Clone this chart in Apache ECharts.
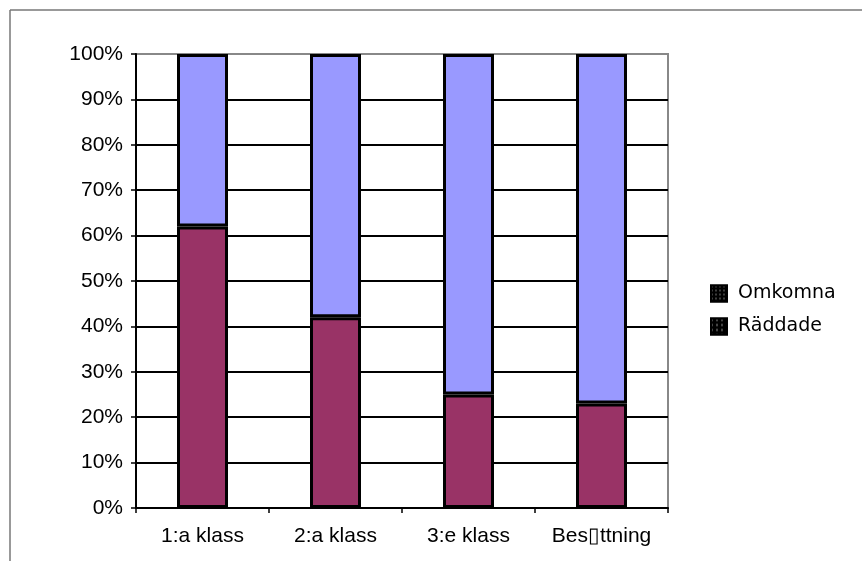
<!DOCTYPE html>
<html>
<head>
    <meta charset="utf-8">
    <script type="text/javascript" src="https://cdn.jsdelivr.net/npm/echarts@6.0.0/dist/echarts.min.js"></script>
    <style type="text/css">
        *{
            margin: 0;
            padding: 0;
        }
        #main{
            width: 862px;
            height: 561px;
            background: #fff;
        }
    </style>
</head>
<body>
<div id="main"></div>
<script type="text/javascript">
    var categories = ['1:a klass', '2:a klass', '3:e klass', 'Bes\u25AFttning'];
    var raddade = [62, 42, 25, 23];
    var omkomna = [38, 58, 75, 77];
    var yTicks = [0, 10, 20, 30, 40, 50, 60, 70, 80, 90, 100];

    var myChart = echarts.init(document.getElementById('main'));
    var option = {
        animation: false,
        backgroundColor: '#fff',
        graphic: [
            {type: 'line', shape: {x1: 10, y1: 10, x2: 862, y2: 10}, style: {stroke: '#777', lineWidth: 1.5}},
            {type: 'line', shape: {x1: 10, y1: 10, x2: 10, y2: 561}, style: {stroke: '#777', lineWidth: 1.5}}
        ],
        grid: {
            left: 136,
            right: 194,
            top: 54,
            bottom: 53,
            show: true,
            borderColor: '#888',
            borderWidth: 2
        },
        legend: {
            orient: 'vertical',
            left: 705,
            top: 279,
            itemWidth: 16,
            itemHeight: 16,
            itemGap: 14,
            icon: 'rect',
            textStyle: {fontFamily: 'DejaVu Sans', fontSize: 19, color: '#000', padding: [0, 0, 0, 6]},
            data: [
                {name: 'Omkomna', itemStyle: {color: '#000', borderColor: '#000', decal: {symbol: 'rect', symbolSize: 0.6, color: '#ccc', dashArrayX: [2, 2], dashArrayY: [2, 2]}}},
                {name: 'Räddade', itemStyle: {color: '#000', borderColor: '#000', decal: {symbol: 'rect', symbolSize: 0.6, color: '#999', dashArrayX: [2, 3], dashArrayY: [3, 2]}}}
            ]
        },
        xAxis: {
            type: 'category',
            data: categories,
            axisLine: {lineStyle: {color: '#000', width: 2}},
            axisTick: {show: true, interval: 0, length: 5, lineStyle: {color: '#000', width: 1.5}},
            axisLabel: {interval: 0, hideOverlap: false, fontFamily: 'Liberation Sans', fontSize: 21, color: '#000', margin: 18}
        },
        yAxis: {
            type: 'value',
            min: 0,
            max: 100,
            interval: 10,
            axisLine: {show: true, lineStyle: {color: '#000', width: 2}},
            axisTick: {show: true, length: 5, lineStyle: {color: '#000', width: 1.5}},
            axisLabel: {
                fontFamily: 'Liberation Sans', fontSize: 21, color: '#000', margin: 13,
                formatter: function (v) { return yTicks.indexOf(v) >= 0 ? v + '%' : ''; }
            },
            splitLine: {show: true, showMaxLine: false, lineStyle: {color: '#000', width: 2}}
        },
        series: [
            {
                name: 'Räddade',
                type: 'bar',
                stack: 'total',
                barWidth: 51,
                data: raddade,
                itemStyle: {color: '#993366', borderColor: '#000', borderWidth: 3}
            },
            {
                name: 'Omkomna',
                type: 'bar',
                stack: 'total',
                barWidth: 51,
                data: omkomna,
                itemStyle: {color: '#9999FF', borderColor: '#000', borderWidth: 3}
            }
        ]
    };
    myChart.setOption(option);
</script>
</body>
</html>
